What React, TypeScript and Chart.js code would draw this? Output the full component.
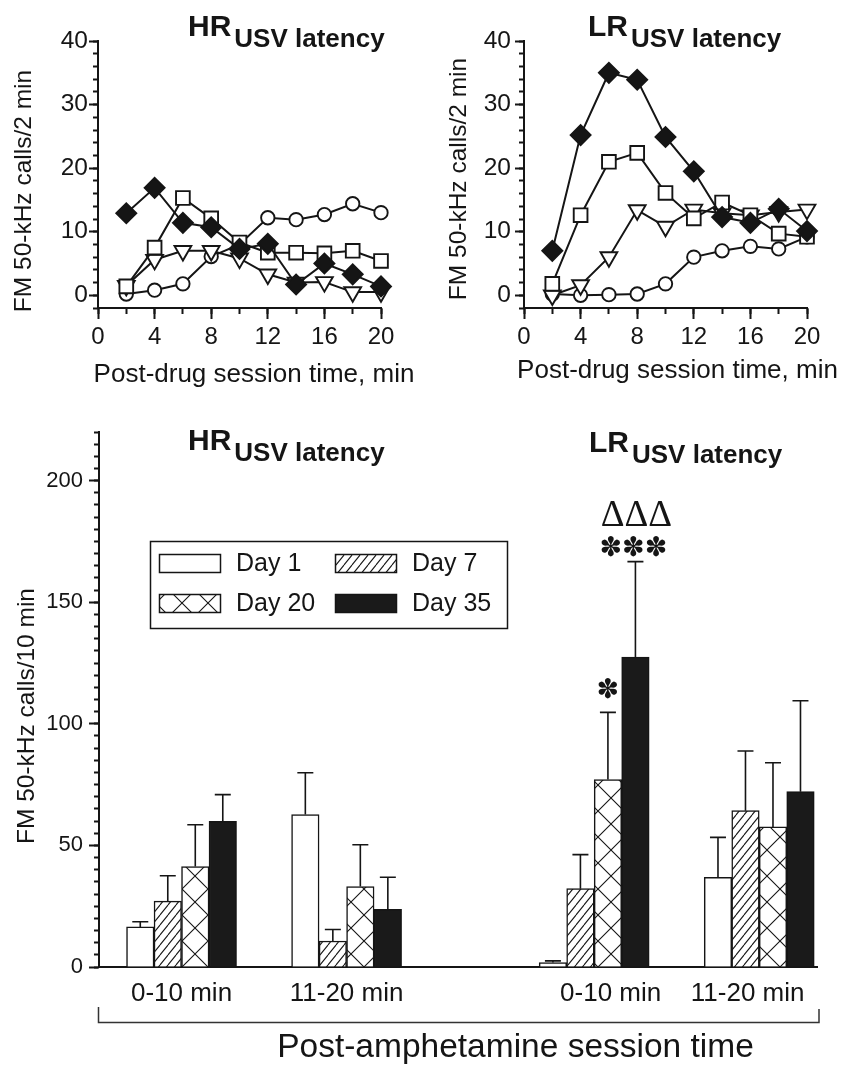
import React, { useEffect, useRef } from 'react';
import { Chart, registerables } from 'chart.js';

Chart.register(...registerables);

const FONT = '"Liberation Sans", Arial, Helvetica, sans-serif';
const SERIF = '"Liberation Serif", "Times New Roman", serif';
const SYMBOL = '"DejaVu Sans", sans-serif';
const INK = '#151515';

// ---------- top panels: FM 50-kHz calls per 2-min bin ----------
const timeMin = [2, 4, 6, 8, 10, 12, 14, 16, 18, 20];

const hrDay1 = [0.2, 0.8, 1.8, 6.1, 8.0, 12.2, 11.9, 12.7, 14.4, 13.0];
const hrDay7 = [1.5, 5.6, 7.0, 7.0, 5.8, 3.3, 2.0, 2.1, 0.5, 0.5];
const hrDay20 = [1.4, 7.5, 15.3, 12.1, 8.3, 6.7, 6.7, 6.6, 7.0, 5.4];
const hrDay35 = [12.9, 16.9, 11.4, 10.7, 7.3, 8.1, 1.7, 5.0, 3.3, 1.4];

const lrDay1 = [0.2, 0.0, 0.1, 0.2, 1.8, 6.0, 7.0, 7.7, 7.3, 9.2];
const lrDay7 = [0.0, 1.6, 6.0, 13.4, 10.8, 13.5, 12.9, 12.6, 13.1, 13.5];
const lrDay20 = [1.8, 12.6, 21.0, 22.4, 16.1, 12.1, 14.6, 12.6, 9.7, 9.2];
const lrDay35 = [7.0, 25.2, 35.0, 33.9, 24.9, 19.5, 12.3, 11.4, 13.6, 10.1];

const topXTicks = [0, 4, 8, 12, 16, 20];
const topYTicks = [0, 10, 20, 30, 40];

// ---------- bottom panel: FM 50-kHz calls per 10 min (mean + SEM) ----------
const barGroups = ['HR 0-10 min', 'HR 11-20 min', 'LR 0-10 min', 'LR 11-20 min'];
const groupPos = [0.5, 1.5, 3.0, 4.0];
const barXLabels = ['0-10 min', '11-20 min', '0-10 min', '11-20 min'];
const barXLabelPos = [0.5, 1.5, 3.1, 3.93];
const barYTicks = [0, 50, 100, 150, 200];

const day1Mean = [16.5, 62.7, 1.8, 36.9];
const day1Sem = [2.1, 17.2, 0.7, 16.4];
const day7Mean = [27.1, 10.7, 32.2, 64.3];
const day7Sem = [10.4, 4.7, 14.0, 24.5];
const day20Mean = [41.3, 33.1, 77.1, 57.6];
const day20Sem = [17.2, 17.2, 27.6, 26.4];
const day35Mean = [59.9, 23.7, 127.4, 72.1];
const day35Sem = [11.0, 13.2, 39.3, 37.4];

const dayLabels = ['Day 1', 'Day 7', 'Day 20', 'Day 35'];

// significance marks: [dataset index, group index, text]
const sigStar = [2, 2, '\u273D'];
const sigStars = [3, 2, '\u273D\u273D\u273D'];
const sigDeltas = [3, 2, '\u0394\u0394\u0394'];

function stepTicks(min: number, max: number, step: number) {
  const out: { value: number }[] = [];
  for (let v = min; v <= max + 1e-9; v += step) out.push({ value: Math.round(v * 1000) / 1000 });
  return out;
}

function drawSubTitle(ctx: CanvasRenderingContext2D, x: number, base: number, main: string, sub: string) {
  ctx.save();
  ctx.fillStyle = INK;
  ctx.textAlign = 'left';
  ctx.textBaseline = 'alphabetic';
  ctx.font = `bold 30px ${FONT}`;
  ctx.fillText(main, x, base);
  const w = ctx.measureText(main).width;
  ctx.font = `bold 26px ${FONT}`;
  ctx.fillText(sub, x + w + 3, base + 11);
  ctx.restore();
}

function drawVText(ctx: CanvasRenderingContext2D, text: string, cx: number, cy: number, size: number) {
  ctx.save();
  ctx.translate(cx, cy);
  ctx.rotate(-Math.PI / 2);
  ctx.fillStyle = INK;
  ctx.font = `${size}px ${FONT}`;
  ctx.textAlign = 'center';
  ctx.textBaseline = 'middle';
  ctx.fillText(text, 0, 0);
  ctx.restore();
}

function drawHText(ctx: CanvasRenderingContext2D, text: string, cx: number, base: number, size: number) {
  ctx.save();
  ctx.fillStyle = INK;
  ctx.font = `${size}px ${FONT}`;
  ctx.textAlign = 'center';
  ctx.textBaseline = 'alphabetic';
  ctx.fillText(text, cx, base);
  ctx.restore();
}

function makePattern(kind: 'diag' | 'cross') {
  const c = document.createElement('canvas');
  const g = c.getContext('2d')!;
  if (kind === 'diag') {
    const W = 8, H = 10;
    c.width = W; c.height = H;
    g.fillStyle = '#fff';
    g.fillRect(0, 0, W, H);
    g.strokeStyle = INK;
    g.lineWidth = 1.1;
    for (const dx of [-W, 0, W]) {
      g.beginPath();
      g.moveTo(dx, H);
      g.lineTo(dx + W, 0);
      g.stroke();
    }
  } else {
    const P = 26;
    c.width = P; c.height = P;
    g.fillStyle = '#fff';
    g.fillRect(0, 0, P, P);
    g.strokeStyle = INK;
    g.lineWidth = 1.1;
    for (const dx of [-P, 0, P]) {
      g.beginPath();
      g.moveTo(dx, 0); g.lineTo(dx + P, P);
      g.moveTo(dx, P); g.lineTo(dx + P, 0);
      g.stroke();
    }
  }
  return g.createPattern(c, 'repeat')!;
}

function tickAxis(over: any) {
  return {
    type: 'linear',
    grid: { display: true, drawOnChartArea: false, drawTicks: true, tickColor: INK, tickWidth: 2, tickLength: 9 },
    border: { display: true, color: INK, width: 2 },
    ...over,
  };
}

function makeLineChart(canvas: HTMLCanvasElement, series: number[][], cfg: any) {
  const pts = (vals: number[]) => timeMin.map((t, i) => ({ x: t, y: vals[i] }));
  const ds = (label: string, vals: number[], style: string, r: number, fill: string, order: number, rot = 0) => ({
    label,
    data: pts(vals),
    xAxisID: 'x',
    yAxisID: 'y',
    borderColor: INK,
    borderWidth: 2,
    tension: 0,
    fill: false,
    clip: false,
    pointStyle: style,
    pointRadius: r,
    pointRotation: rot,
    pointBackgroundColor: fill,
    pointBorderColor: INK,
    pointBorderWidth: 1.9,
    order,
  });
  return new Chart(canvas, {
    type: 'line',
    data: {
      datasets: [
        ds(dayLabels[3], series[3], 'rectRot', 10, INK, 0),
        ds(dayLabels[2], series[2], 'rect', 9.7, '#fff', 1),
        ds(dayLabels[1], series[1], 'triangle', 9.7, '#fff', 2, 180),
        ds(dayLabels[0], series[0], 'circle', 6.7, '#fff', 3),
      ] as any,
    },
    options: {
      responsive: false,
      animation: false,
      events: [],
      layout: { padding: { top: cfg.top, right: cfg.right, bottom: 0, left: 0 } },
      plugins: { legend: { display: false }, tooltip: { enabled: false }, title: { display: false } },
      scales: {
        xMinor: tickAxis({
          position: 'bottom', weight: 0, min: 0, max: 20,
          afterBuildTicks: (s: any) => { s.ticks = stepTicks(0, 20, 2); },
          ticks: { display: false },
          grid: { display: true, drawOnChartArea: false, drawTicks: true, tickColor: INK, tickWidth: 2, tickLength: 6 },
          border: { display: false },
          afterFit: (s: any) => { s.height = 0; },
        }),
        x: tickAxis({
          position: 'bottom', weight: 1, min: 0, max: 20,
          afterBuildTicks: (s: any) => { s.ticks = topXTicks.map((v) => ({ value: v })); },
          ticks: { font: { family: FONT, size: 24 }, color: INK, padding: 4, maxRotation: 0, autoSkip: false },
          grid: { display: true, drawOnChartArea: false, drawTicks: true, tickColor: INK, tickWidth: 2, tickLength: 11 },
          afterFit: (s: any) => { s.height = cfg.xh; },
        }),
        yMinor: tickAxis({
          position: 'left', weight: 0, min: -2, max: 40,
          afterBuildTicks: (s: any) => { s.ticks = stepTicks(-2, 40, 2); },
          ticks: { display: false },
          grid: { display: true, drawOnChartArea: false, drawTicks: true, tickColor: INK, tickWidth: 2, tickLength: 5 },
          border: { display: false },
          afterFit: (s: any) => { s.width = 0; },
        }),
        y: tickAxis({
          position: 'left', weight: 1, min: -2, max: 40,
          afterBuildTicks: (s: any) => { s.ticks = topYTicks.map((v) => ({ value: v })); },
          ticks: { font: { family: FONT, size: 24.5 }, color: INK, padding: cfg.ypad },
          afterFit: (s: any) => { s.width = cfg.yw; },
        }),
      } as any,
    },
    plugins: [
      {
        id: 'decor',
        afterDraw(chart: any) {
          const ctx = chart.ctx;
          drawSubTitle(ctx, cfg.titleX, 36, cfg.main, 'USV latency');
          drawVText(ctx, 'FM 50-kHz calls/2 min', cfg.yTitleX, cfg.yTitleY, 24.5);
          drawHText(ctx, 'Post-drug session time, min', cfg.xTitleX, cfg.xTitleBase, 26);
        },
      },
    ],
  });
}

function makeBarChart(canvas: HTMLCanvasElement) {
  const diag = makePattern('diag');
  const cross = makePattern('cross');
  const means = [day1Mean, day7Mean, day20Mean, day35Mean];
  const sems = [day1Sem, day7Sem, day20Sem, day35Sem];
  const fills: any[] = ['#ffffff', diag, cross, '#1a1a1a'];

  const datasets = means.map((m, k) => ({
    label: dayLabels[k],
    data: groupPos.map((p, i) => ({ x: p, y: m[i] })),
    backgroundColor: fills[k],
    borderColor: INK,
    borderWidth: 1.5,
    barThickness: 27.5,
    xAxisID: 'x',
    yAxisID: 'y',
  }));

  const errorBars = {
    id: 'errorBars',
    afterDatasetsDraw(chart: any) {
      const ctx = chart.ctx;
      const ys = chart.scales.y;
      ctx.save();
      ctx.strokeStyle = INK;
      ctx.lineWidth = 1.6;
      means.forEach((m, k) => {
        const meta = chart.getDatasetMeta(k);
        meta.data.forEach((bar: any, i: number) => {
          const yTop = ys.getPixelForValue(m[i] + sems[k][i]);
          ctx.beginPath();
          ctx.moveTo(bar.x, bar.y);
          ctx.lineTo(bar.x, yTop);
          ctx.moveTo(bar.x - 8, yTop);
          ctx.lineTo(bar.x + 8, yTop);
          ctx.stroke();
        });
      });
      ctx.restore();
    },
  };

  const decor = {
    id: 'decorBars',
    afterDraw(chart: any) {
      const ctx = chart.ctx;
      const ys = chart.scales.y;
      const errTop = (k: number, g: number) => ys.getPixelForValue(means[k][g] + sems[k][g]);
      const barX = (k: number, g: number) => chart.getDatasetMeta(k).data[g].x;

      // titles
      drawSubTitle(ctx, 188, 55, 'HR', 'USV latency');
      drawSubTitle(ctx, 589, 57, 'LR', 'USV latency');

      // y title
      drawVText(ctx, 'FM 50-kHz calls/10 min', 27, 321, 24.5);

      // significance marks
      ctx.save();
      ctx.fillStyle = INK;
      ctx.textAlign = 'center';
      ctx.textBaseline = 'middle';
      ctx.font = `27px ${SYMBOL}`;
      ctx.fillText(sigStar[2] as string, barX(sigStar[0] as number, sigStar[1] as number), errTop(sigStar[0] as number, sigStar[1] as number) - 21);
      ctx.fillText(sigStars[2] as string, barX(sigStars[0] as number, sigStars[1] as number) - 2, errTop(sigStars[0] as number, sigStars[1] as number) - 13);
      ctx.font = `37px ${SERIF}`;
      ctx.fillText(sigDeltas[2] as string, barX(sigDeltas[0] as number, sigDeltas[1] as number) + 1, errTop(sigDeltas[0] as number, sigDeltas[1] as number) - 45);
      ctx.restore();

      // legend
      ctx.save();
      ctx.strokeStyle = INK;
      ctx.lineWidth = 1.5;
      ctx.strokeRect(150.5, 146.5, 357, 87);
      const cols = [159, 335];
      const rows = [159, 199];
      const order = [[0, 0, 0], [1, 1, 0], [2, 0, 1], [3, 1, 1]];
      order.forEach(([k, c, r]) => {
        const sx = cols[c], sy = rows[r];
        ctx.fillStyle = chart.data.datasets[k].backgroundColor;
        ctx.fillRect(sx, sy, 62, 19);
        ctx.strokeRect(sx + 0.5, sy + 0.5, 61, 18);
        ctx.fillStyle = INK;
        ctx.font = `25px ${FONT}`;
        ctx.textAlign = 'left';
        ctx.textBaseline = 'middle';
        ctx.fillText(chart.data.datasets[k].label, sx + 77, sy + 10);
      });
      ctx.restore();

      // bracket under the x axis
      ctx.save();
      ctx.strokeStyle = '#333';
      ctx.lineWidth = 1.5;
      ctx.beginPath();
      ctx.moveTo(98.5, 612);
      ctx.lineTo(98.5, 627.5);
      ctx.lineTo(819, 627.5);
      ctx.lineTo(819, 614);
      ctx.stroke();
      ctx.restore();

      drawHText(ctx, 'Post-amphetamine session time', 515.5, 662, 33.5);
    },
  };

  return new Chart(canvas, {
    type: 'bar',
    data: { datasets: datasets as any },
    options: {
      responsive: false,
      animation: false,
      events: [],
      layout: { padding: { top: 37, right: 41, bottom: 0, left: 0 } },
      plugins: { legend: { display: false }, tooltip: { enabled: false }, title: { display: false } },
      scales: {
        x: {
          type: 'linear',
          position: 'bottom',
          min: 0,
          max: 4.35,
          offset: false,
          afterBuildTicks: (s: any) => { s.ticks = barXLabelPos.map((v) => ({ value: v })); },
          ticks: {
            callback: (_v: any, i: number) => barXLabels[i],
            font: { family: FONT, size: 26 },
            color: INK,
            padding: 11,
            autoSkip: false,
            maxRotation: 0,
          },
          grid: { display: false, drawTicks: false },
          border: { display: true, color: INK, width: 2 },
          afterFit: (s: any) => { s.height = 100; },
        },
        yMinor: tickAxis({
          position: 'left', weight: 0, min: 0, max: 220,
          afterBuildTicks: (s: any) => { s.ticks = stepTicks(0, 220, 5); },
          ticks: { display: false },
          grid: { display: true, drawOnChartArea: false, drawTicks: true, tickColor: INK, tickWidth: 2, tickLength: 5 },
          border: { display: false },
          afterFit: (s: any) => { s.width = 0; },
        }),
        y: tickAxis({
          position: 'left', weight: 1, min: 0, max: 220,
          afterBuildTicks: (s: any) => { s.ticks = barYTicks.map((v) => ({ value: v })); },
          ticks: { font: { family: FONT, size: 22 }, color: INK, padding: 6 },
          grid: { display: true, drawOnChartArea: false, drawTicks: true, tickColor: INK, tickWidth: 2, tickLength: 10 },
          afterFit: (s: any) => { s.width = 99; },
        }),
      } as any,
    },
    plugins: [errorBars, decor],
  });
}

export default function App() {
  const hrRef = useRef<HTMLCanvasElement>(null);
  const lrRef = useRef<HTMLCanvasElement>(null);
  const barRef = useRef<HTMLCanvasElement>(null);

  useEffect(() => {
    Chart.defaults.font.family = FONT;
    Chart.defaults.color = INK;
    const charts: Chart[] = [];
    charts.push(
      makeLineChart(hrRef.current!, [hrDay1, hrDay7, hrDay20, hrDay35], {
        top: 41, right: 49, xh: 87, yw: 98, ypad: 1,
        main: 'HR', titleX: 188, yTitleX: 24, yTitleY: 191, xTitleX: 254, xTitleBase: 382,
      })
    );
    charts.push(
      makeLineChart(lrRef.current!, [lrDay1, lrDay7, lrDay20, lrDay35], {
        top: 41, right: 51, xh: 87, yw: 94, ypad: 4,
        main: 'LR', titleX: 158, yTitleX: 29, yTitleY: 179, xTitleX: 247.5, xTitleBase: 378,
      })
    );
    charts.push(makeBarChart(barRef.current!));
    return () => charts.forEach((c) => c.destroy());
  }, []);

  return (
    <div style={{ position: 'absolute', left: 0, top: 0, width: 858, height: 1067, background: '#fff', overflow: 'hidden' }}>
      <canvas ref={hrRef} width={430} height={395} style={{ position: 'absolute', left: 0, top: 0 }} />
      <canvas ref={lrRef} width={428} height={395} style={{ position: 'absolute', left: 430, top: 0 }} />
      <canvas ref={barRef} width={858} height={672} style={{ position: 'absolute', left: 0, top: 395 }} />
    </div>
  );
}
